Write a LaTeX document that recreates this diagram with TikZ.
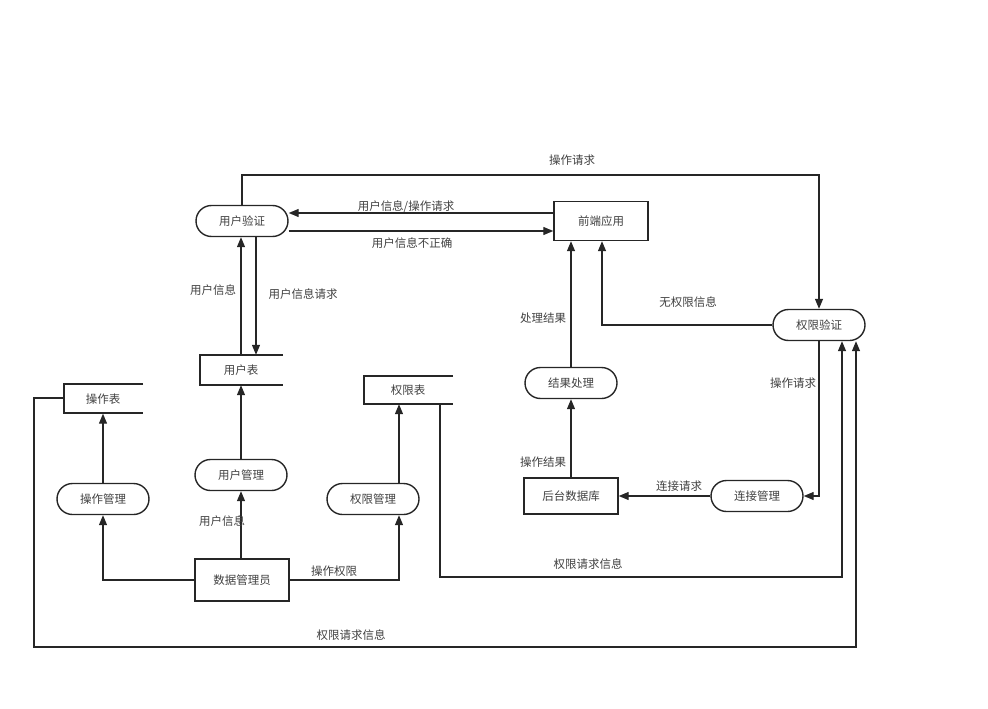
\documentclass[tikz,border=0pt]{standalone}
\usepackage{fontspec}
\setmainfont{Noto Sans CJK SC}
\usetikzlibrary{arrows.meta,shapes.misc}
\begin{document}
\begin{tikzpicture}[x=1pt,y=-1pt,
  every node/.style={font=\fontsize{11.5}{13}\selectfont,text=black!75},
  proc/.style={draw=black!85,line width=1.4pt,rounded rectangle,minimum width=92pt,minimum height=31pt,inner sep=0pt},
  box/.style={draw=black!85,line width=1.4pt,minimum width=94pt,minimum height=39pt,inner sep=0pt},
  lbl/.style={font=\fontsize{11.5}{13}\selectfont,text=black!75,inner sep=1pt},
  ln/.style={draw=black!85,line width=1.3pt},
  ar/.style={ln,-{Triangle[length=10pt,width=8pt]}}]
\useasboundingbox (0,0) rectangle (988,709);
\node[proc] (yhyz) at (242,221) {用户验证};
\node[box] (qd) at (601,221) {前端应用};
\node[proc] (qxyz) at (819,325) {权限验证};
\node[proc] (jgcl) at (571,383) {结果处理};
\node[proc] (yhgl) at (241,475) {用户管理};
\node[proc] (czgl) at (103,499) {操作管理};
\node[proc] (qxgl) at (373,499) {权限管理};
\node[box,minimum height=36pt] (db) at (571,496) {后台数据库};
\node[proc] (ljgl) at (757,496) {连接管理};
\node[box,minimum height=42pt] (admin) at (242,580) {数据管理员};
% data stores
\node[minimum width=83pt,minimum height=30pt,inner sep=0pt] (yhb) at (241,370) {用户表};
\draw[ln,line width=1.4pt] (283,355) -- (200,355) -- (200,385) -- (283,385);
\node[minimum width=79pt,minimum height=29pt,inner sep=0pt] (czb) at (103,399) {操作表};
\draw[ln,line width=1.4pt] (143,384) -- (64,384) -- (64,413) -- (143,413);
\node[minimum width=89pt,minimum height=28pt,inner sep=0pt] (qxb) at (408,390) {权限表};
\draw[ln,line width=1.4pt] (453,376) -- (364,376) -- (364,404) -- (453,404);
% edges
\draw[ar] (yhyz.north) -- (242,175) -- (819,175) -- (qxyz.north);
\node[lbl] at (572,160) {操作请求};
\draw[ar] (qd.west|-0,213) -- (yhyz.east|-0,213);
\node[lbl] at (406,207) {用户信息/操作请求};
\draw[ar] (yhyz.east|-0,231) -- (qd.west|-0,231);
\node[lbl] at (412,243) {用户信息不正确};
\draw[ar] (yhb.north-|241,0) -- (yhyz.south-|241,0);
\node[lbl] at (213,290) {用户信息};
\draw[ar] (yhyz.south-|256,0) -- (yhb.north-|256,0);
\node[lbl] at (303,294) {用户信息请求};
\draw[ar] (jgcl.north) -- (qd.south-|jgcl.north);
\node[lbl] at (543,318) {处理结果};
\draw[ar] (qxyz.west) -- (602,325) -- (qd.south-|602,0);
\node[lbl] at (688,302) {无权限信息};
\draw[ar] (qxyz.south) -- (819,496) -- (ljgl.east);
\node[lbl] at (793,383) {操作请求};
\draw[ar] (ljgl.west) -- (db.east);
\node[lbl] at (679,486) {连接请求};
\draw[ar] (db.north) -- (jgcl.south);
\node[lbl] at (543,462) {操作结果};
\draw[ar] (yhgl.north) -- (yhb.south);
\draw[ar] (admin.north-|241,0) -- (yhgl.south);
\node[lbl] at (222,521) {用户信息};
\draw[ar] (admin.west) -- (103,580) -- (czgl.south);
\draw[ar] (admin.east) -- (399,580) -- (qxgl.south-|399,0);
\node[lbl] at (334,571) {操作权限};
\draw[ar] (qxgl.north-|399,0) -- (qxb.south-|399,0);
\draw[ar] (czgl.north) -- (czb.south);
\draw[ar] (qxb.south-|440,0) -- (440,577) -- (842,577) -- (qxyz.south-|842,0);
\node[lbl] at (588,564) {权限请求信息};
\draw[ar] (64,398) -- (34,398) -- (34,647) -- (856,647) -- (qxyz.south-|856,0);
\node[lbl] at (351,635) {权限请求信息};
\end{tikzpicture}
\end{document}
